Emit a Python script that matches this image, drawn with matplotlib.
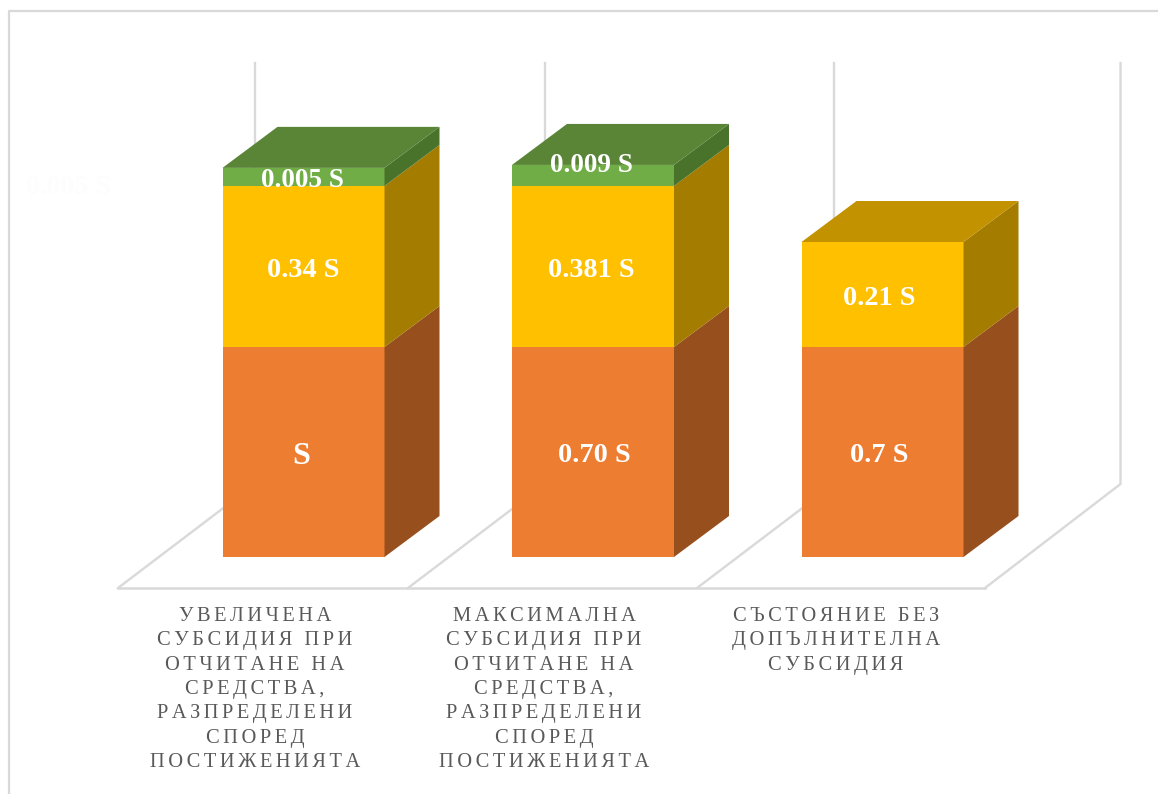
#!/usr/bin/env python
# -*- coding: utf-8 -*-
import matplotlib
matplotlib.use("Agg")
import matplotlib.pyplot as plt
from matplotlib.patches import Polygon

categories = [
    "УВЕЛИЧЕНА\nСУБСИДИЯ ПРИ\nОТЧИТАНЕ НА\nСРЕДСТВА,\nРАЗПРЕДЕЛЕНИ\nСПОРЕД\nПОСТИЖЕНИЯТА",
    "МАКСИМАЛНА\nСУБСИДИЯ ПРИ\nОТЧИТАНЕ НА\nСРЕДСТВА,\nРАЗПРЕДЕЛЕНИ\nСПОРЕД\nПОСТИЖЕНИЯТА",
    "СЪСТОЯНИЕ БЕЗ\nДОПЪЛНИТЕЛНА\nСУБСИДИЯ",
]
# bar heights as drawn in the picture (orange block = 1)
orange = [1.0, 1.0, 1.0]
yellow = [0.767, 0.767, 0.5]
green = [0.086, 0.1, 0.0]

orange_labels = ["S", "0.70 S", "0.7 S"]
yellow_labels = ["0.34 S", "0.381 S", "0.21 S"]
green_labels = ["0.005 S", "0.009 S", ""]


W, H = 1158, 794
X0, XSTEP = 303.5, 289.5   # pixel x of first bar centre, pixels per category
Y0, YUNIT = 557, 210       # pixel y of the baseline, pixels per unit


def px(x, y):
    return (x - X0) / XSTEP, (Y0 - y) / YUNIT


def spaced(s):
    # letter spacing, matplotlib has no option for it
    return "\n".join("\u200a\u200a".join(line) for line in s.split("\n"))


def draw_segment(ax, i, bottom, height, front, side, zorder):
    right = i + BAR_W / 2
    ax.bar(i, height, BAR_W, bottom=bottom, color=front, linewidth=0, zorder=zorder)
    ax.add_patch(Polygon([(right, bottom), (right + DX, bottom + DY),
                          (right + DX, bottom + height + DY), (right, bottom + height)],
                         closed=True, facecolor=side, edgecolor="none", zorder=zorder))


def draw_top(ax, i, y, color, zorder):
    left, right = i - BAR_W / 2, i + BAR_W / 2
    ax.add_patch(Polygon([(left, y), (right, y), (right + DX, y + DY), (left + DX, y + DY)],
                         closed=True, facecolor=color, edgecolor="none", zorder=zorder))


BAR_W = 162 / XSTEP
DX = 55 / XSTEP
DY = 41 / YUNIT

plt.rcParams["font.family"] = ["Liberation Serif", "DejaVu Serif"]
fig = plt.figure(figsize=(W / 100, H / 100), dpi=100)
ax = fig.add_axes([0, 0, 1, 1])
ax.set_xlim(px(0, 0)[0], px(W, 0)[0])
ax.set_ylim(px(0, H)[1], px(0, 0)[1])
ax.axis("off")

grid_c = "#D9D9D9"
# outer frame
ax.plot(*zip(px(9, H), px(9, 11), px(W, 11)), color=grid_c, lw=1.6, zorder=1)
# floor and walls
ax.plot(*zip(px(118, 588), px(985, 588)), color=grid_c, lw=1.8, zorder=1)
for fx, bx in zip([118, 408, 697, 985], [255, 545, 834, 1120.5]):
    ax.plot(*zip(px(fx, 588), px(bx, 484), px(bx, 63)), color=grid_c, lw=1.7, zorder=1)

# washed out label left of the first bar
ax.text(*px(68, 188), "0.005 S", color="#FDFDFD", fontsize=20, fontweight="bold",
        ha="center", va="center", zorder=2)

text_dy = 4 / YUNIT    # labels sit a little under the segment centre
orange_shift = [-2 / XSTEP, 1 / XSTEP, -3 / XSTEP]
yellow_shift = [-0.5 / XSTEP, -1.5 / XSTEP, -3 / XSTEP]
green_off = [0.0, 0.065]

for i in range(len(categories)):
    draw_segment(ax, i, 0, orange[i], "#ED7D31", "#984F1E", 3)
    draw_segment(ax, i, orange[i], yellow[i], "#FFC000", "#A47C00", 3)
    top = orange[i] + yellow[i]
    top_c = "#C29200"
    if green[i] > 0:
        draw_segment(ax, i, top, green[i], "#70AD47", "#49722B", 3)
        top += green[i]
        top_c = "#5A8537"
    draw_top(ax, i, top, top_c, 3)

    lab = dict(color="white", fontweight="bold", ha="center", va="center", zorder=5)
    ax.text(i + orange_shift[i], orange[i] / 2 - text_dy, orange_labels[i],
            fontsize=23 if i == 0 else 20.3, **lab)
    ax.text(i + yellow_shift[i], orange[i] + yellow[i] / 2 - text_dy, yellow_labels[i],
            fontsize=20.3, **lab)
    if green[i] > 0:
        ax.text(i - 0.005, orange[i] + yellow[i] + green[i] / 2 + green_off[i] - text_dy,
                green_labels[i], fontsize=19.5, **lab)

    tx = px(0, 0)[0] + ([255, 544, 836][i]) / XSTEP
    ax.text(tx, px(0, 607)[1], spaced(categories[i]), color="#595959", fontsize=14.8,
            ha="center", va="top", multialignment="center", linespacing=1.38, zorder=5)

fig.savefig("out.png", dpi=100, facecolor="white")
